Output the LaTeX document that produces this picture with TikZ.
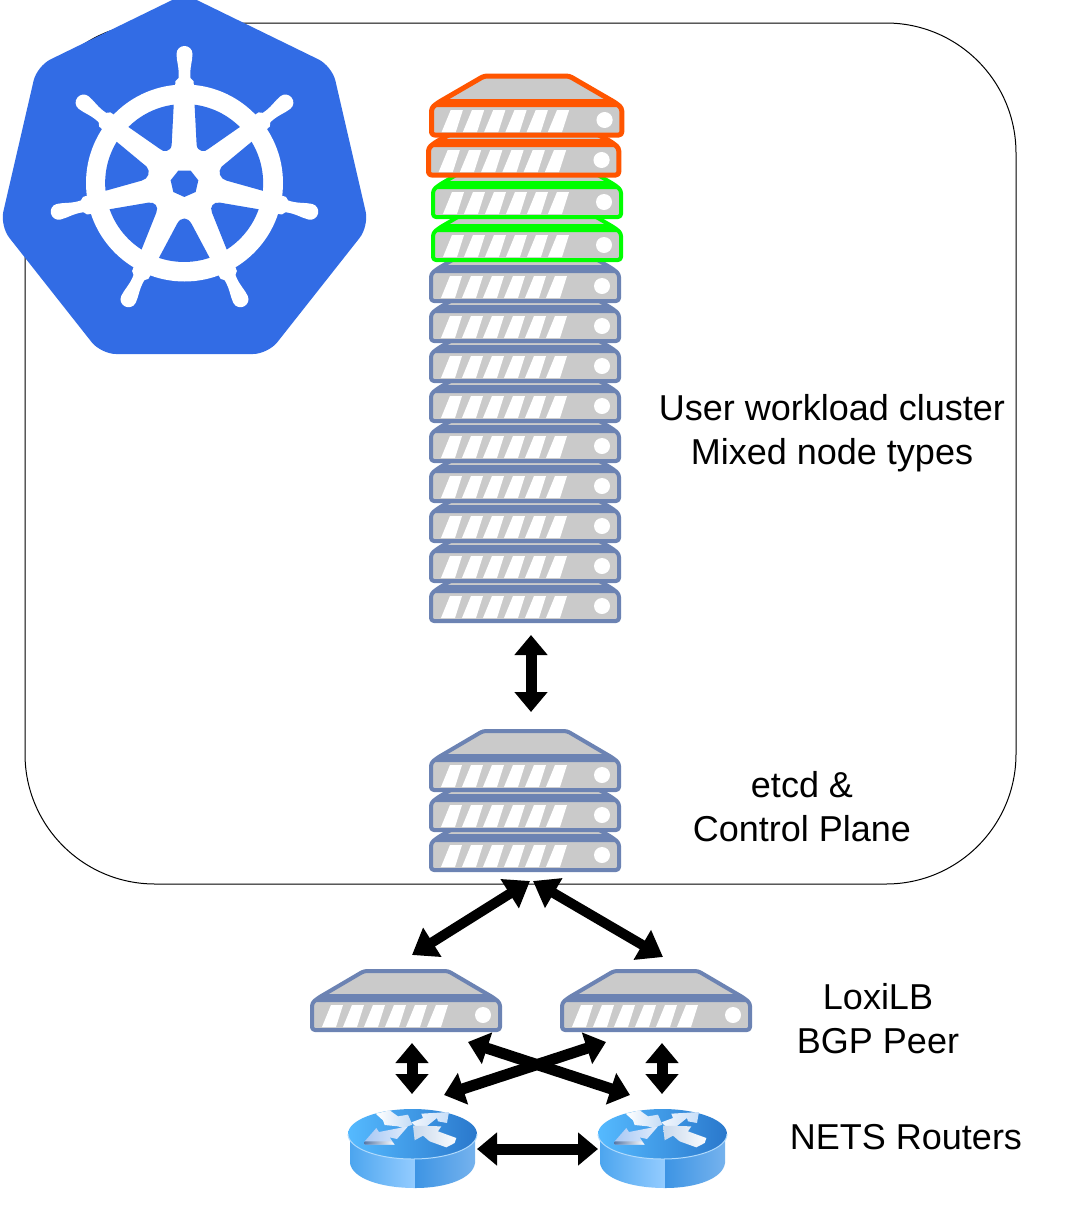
\documentclass[tikz,border=0pt]{standalone}
\usepackage{fontspec}
\setmainfont{Liberation Sans}
\usetikzlibrary{arrows.meta}
\definecolor{srvblue}{HTML}{6C83B3}
\definecolor{srvorange}{HTML}{FF5500}
\definecolor{srvgreen}{HTML}{00FF00}
\definecolor{srvgray}{HTML}{CACACA}
\definecolor{k8sblue}{HTML}{326CE5}
\definecolor{rA}{HTML}{4AA4EE}
\definecolor{rB}{HTML}{94CCFF}
\definecolor{rC}{HTML}{3D94E4}
\definecolor{rD}{HTML}{78B4EE}
\definecolor{rE}{HTML}{55BAFF}
\definecolor{rF}{HTML}{2A78CC}
\definecolor{rG}{HTML}{B0DAFC}
\definecolor{aA}{HTML}{C4DCF6}
\definecolor{aB}{HTML}{A8C8F4}
\definecolor{aC}{HTML}{E0ECFC}
\definecolor{aD}{HTML}{F0F5FC}
\definecolor{aE}{HTML}{C8DEF8}
\definecolor{aF}{HTML}{C8D8EC}
\definecolor{aG}{HTML}{FAFCFE}
\definecolor{aH}{HTML}{5A7AA8}
\tikzset{
  label text/.style={font=\fontsize{36}{44}\selectfont,align=center,text=black},
  frame box/.style={draw=black,line width=1pt,rounded corners=130pt},
  srvline/.style={line width=4pt},
  link/.style={line width=10pt,{Triangle[length=24pt,width=33pt]}-{Triangle[length=24pt,width=33pt]}},
  short link/.style={line width=11pt,{Triangle[length=20pt,width=32pt]}-{Triangle[length=20pt,width=32pt]}},
  pics/server/.style={code={
    \path[fill=srvgray,draw=#1,srvline,line join=round,rounded corners=3pt]
      (2,40) -- (2,34) -- (8,29) -- (54,2) -- (138,2) -- (184,29) -- (190,34) -- (190,61) -- (2,61) -- cycle;
    \fill[#1] (14,25) -- (178,25) -- (190,33) -- (2,33) -- cycle;
    \foreach \s in {0,1,2,3,4,5}{
      \fill[white] ({12+21*\s},58) -- ({26+21*\s},58) -- ({33+21*\s},36) -- ({21+21*\s},36) -- cycle;
    }
    \fill[white] (173,46) circle[radius=8];
  }},
  pics/router/.style={code={
    \begin{scope}
      \clip (2,25) -- (2,54) .. controls (4,69) and (32,79) .. (67,79) -- (67,25) -- cycle;
      \shade[left color=rA,right color=rB] (0,20) rectangle (67,82);
    \end{scope}
    \begin{scope}
      \clip (67,25) -- (67,79) .. controls (100,79) and (125,69) .. (127,54) -- (127,25) -- cycle;
      \shade[left color=rC,right color=rD] (67,20) rectangle (130,82);
    \end{scope}
    \shade[left color=rE,right color=rF] (64.5,25) ellipse[x radius=64.5,y radius=25];
    \draw[color=rG,line width=1pt] (0,25) .. controls (0,39) and (29,50) .. (64.5,50) .. controls (100,50) and (129,39) .. (129,25);
    \begin{scope}[x=.3333pt,y=-.3333pt,shift={(-25,-28)}]
      \shade[left color=white,right color=aA] (108,42) -- (150,32) -- (175,50) -- (205,45) -- (218,75) -- (190,85) -- (175,80) -- (135,76) -- (130,62) -- cycle;
      \shade[left color=aB,right color=aC] (75,125) -- (110,85) -- (118,97) -- (205,80) -- (172,118) -- (150,113) -- (165,135) -- (75,135) -- cycle;
      \shade[left color=aH,right color=white] (75,125) -- (155,125) -- (165,135) -- (75,135) -- cycle;
      \shade[left color=aD,right color=aE] (215,68) -- (250,55) -- (245,42) -- (328,37) -- (322,70) -- (295,65) -- (292,55) -- (258,82) -- (228,80) -- cycle;
      \shade[left color=aF,right color=aG] (220,78) -- (305,80) -- (295,95) -- (350,115) -- (345,130) -- (320,143) -- (270,125) -- (250,108) -- (225,122) -- cycle;
    \end{scope}
  }}
}
\newcommand{\wheelwedge}[1]{\fill[k8sblue] #1;}
\begin{document}
\begin{tikzpicture}[x=1pt,y=-1pt]
\useasboundingbox (0,0) rectangle (1073,1205);
\fill[white] (0,0) rectangle (1073,1205);

% enclosing cluster frame
\draw[frame box] (25,23) rectangle (1016,884);

% kubernetes logo
\begin{scope}
  \clip (0,0) rectangle (1073,1205);
  \fill[k8sblue,rounded corners=15pt] (184.5,-6) -- (332,66) -- (369,226) -- (268,354) -- (101,354) -- (0,226) -- (37,66) -- cycle;
  \fill[white] (184.5,183) circle[radius=98.5];
  \foreach \a in {0,1,2,3,4,5,6}{
    \begin{scope}[shift={(184.5,183)},rotate={\a*360/7}]
      \fill[white] (-10,-90) -- (-9,-102) -- (-6,-105) .. controls (-5,-115) and (-8,-122) .. (-8,-129) .. controls (-8,-134) and (-4,-137) .. (0,-137) .. controls (4,-137) and (8,-134) .. (8,-129) .. controls (8,-122) and (5,-115) .. (6,-105) -- (9,-102) -- (10,-90) -- cycle;
    \end{scope}
  }
  \begin{scope}[x=.3333pt,y=-.3333pt]
    \begin{scope}
      \clip (552.5,549) circle[radius=237];
      \wheelwedge{(582,280) -- (590,435) .. controls (592,455) and (615,458) .. (625,447) -- (790,332) -- (790,280) -- cycle}
      \wheelwedge{(800,388) -- (665,500) .. controls (652,515) and (660,537) .. (680,542) -- (830,584) -- (850,388) -- cycle}
      \wheelwedge{(830,637) -- (660,608) .. controls (640,605) and (628,620) .. (636,638) -- (700,798) -- (830,798) -- cycle}
      \wheelwedge{(650,813) -- (575,672) .. controls (563,650) and (543,650) .. (531,672) -- (456,813) -- cycle}
      \wheelwedge{(275,637) -- (445,608) .. controls (465,605) and (477,620) .. (469,638) -- (405,798) -- (275,798) -- cycle}
      \wheelwedge{(305,388) -- (440,500) .. controls (453,515) and (445,537) .. (425,542) -- (275,584) -- (255,388) -- cycle}
      \wheelwedge{(523,280) -- (515,435) .. controls (513,455) and (490,458) .. (480,447) -- (315,332) -- (315,280) -- cycle}
    \end{scope}
    \wheelwedge{(535,512) -- (572,512) -- (595,541) -- (587,576) -- (553,591) -- (520,576) -- (512,541) -- cycle}
  \end{scope}
\end{scope}

% workload stack (drawn bottom up so that upper units overlap lower ones)
\foreach \y in {560,520,480,440,400,360,320,280,240}{
  \pic at (429,\y) {server=srvblue};
}
\pic at (431,199) {server=srvgreen};
\pic at (431,156) {server=srvgreen};
\pic[srvline/.style={line width=5pt},xscale=1.012] at (426.5,114) {server=srvorange};
\pic[srvline/.style={line width=5pt},xscale=1.012] at (429.5,74) {server=srvorange};

% etcd & control plane
\foreach \y in {809,769,729}{
  \pic at (429,\y) {server=srvblue};
}

% LoxiLB peers
\pic at (310,969) {server=srvblue};
\pic at (560,969) {server=srvblue};

% routers
\pic at (348,1109) {router};
\pic at (598,1109) {router};

% connector ends
\coordinate (stackLow) at (531,635);
\coordinate (cpHigh) at (531,712);
\coordinate (cpL) at (530,881);
\coordinate (cpR) at (533,881);
\coordinate (lbLup) at (412,955);
\coordinate (lbRup) at (663,957);
\coordinate (lbLdown) at (412,1043);
\coordinate (lbRdown) at (662,1043);
\coordinate (rtLup) at (412,1094);
\coordinate (rtRup) at (662,1094);
\coordinate (lbLcross) at (468,1042);
\coordinate (lbRcross) at (606,1042);
\coordinate (rtLcross) at (444,1095);
\coordinate (rtRcross) at (630,1095);
\coordinate (rtLside) at (477,1149);
\coordinate (rtRside) at (598,1149);

\draw[short link] (stackLow) -- (cpHigh);
\draw[link] (cpL) -- (lbLup);
\draw[link] (cpR) -- (lbRup);
\draw[short link] (lbLdown) -- (rtLup);
\draw[short link] (lbRdown) -- (rtRup);
\draw[short link] (lbLcross) -- (rtRcross);
\draw[short link] (lbRcross) -- (rtLcross);
\draw[short link] (rtLside) -- (rtRside);

% labels
\node[label text] (lblWork) at (832,433) {User workload cluster\\Mixed node types};
\node[label text] (lblEtcd) at (802,807) {etcd \&\\Control Plane};
\node[label text] (lblLoxi) at (878,1019) {LoxiLB\\BGP Peer};
\node[label text] (lblNets) at (906,1137) {NETS Routers};
\end{tikzpicture}
\end{document}
